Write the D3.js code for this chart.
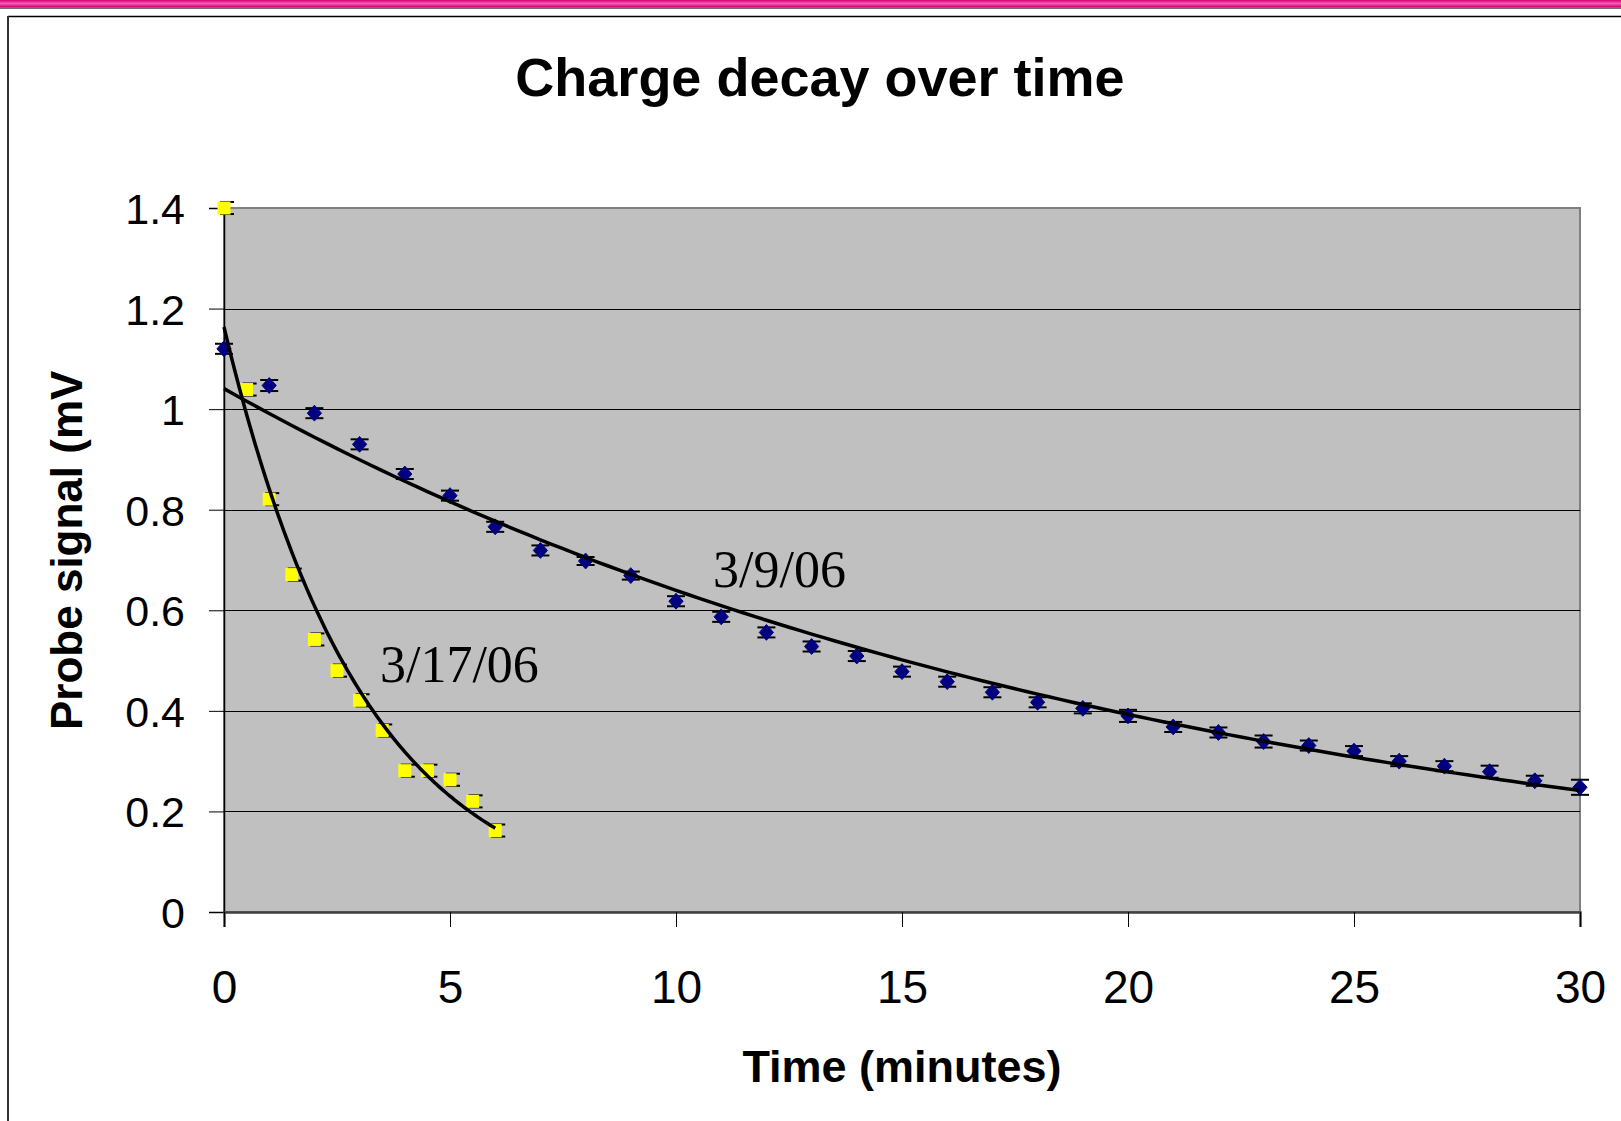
<!DOCTYPE html>
<html lang="en">
<head>
<meta charset="utf-8">
<title>Charge decay over time</title>
<style>
  body { margin: 0; background: #fff; }
</style>
</head>
<body>
<svg id="chart" width="1621" height="1121" font-family="'Liberation Sans', Arial, sans-serif"></svg>
<script src="https://d3js.org/d3.v7.min.js"></script>
<script>
// 3/9/06 run, one reading a minute
const timesA = [0, 1, 2, 3, 4, 5, 6, 7, 8, 9, 10, 11, 12, 13, 14, 15, 16, 17, 18, 19, 20,
                21, 22, 23, 24, 25, 26, 27, 28, 29, 30];
const signalA = [1.12, 1.047, 0.992, 0.930, 0.871, 0.828, 0.766, 0.719, 0.698, 0.669, 0.618,
                 0.587, 0.556, 0.528, 0.509, 0.478, 0.458, 0.437, 0.417, 0.405, 0.390,
                 0.368, 0.357, 0.339, 0.331, 0.320, 0.300, 0.290, 0.279, 0.261, 0.248];
const errorA = [0.010, 0.011, 0.010, 0.010, 0.010, 0.010, 0.010, 0.010, 0.008, 0.008, 0.010,
                0.010, 0.010, 0.010, 0.010, 0.010, 0.010, 0.010, 0.010, 0.010, 0.012,
                0.010, 0.010, 0.012, 0.010, 0.010, 0.010, 0.010, 0.012, 0.010, 0.015];

// 3/17/06 run, every half minute
const timesB = [0, 0.5, 1, 1.5, 2, 2.5, 3, 3.5, 4, 4.5, 5, 5.5, 6];
const signalB = [1.40, 1.039, 0.821, 0.671, 0.542, 0.480, 0.421, 0.361, 0.281, 0.281, 0.263, 0.220, 0.162];
const errorB = [0.012, 0.012, 0.012, 0.012, 0.012, 0.012, 0.012, 0.012, 0.012, 0.012, 0.012, 0.012, 0.012];

const xTicks = [0, 5, 10, 15, 20, 25, 30];
const yTicks = [0, 0.2, 0.4, 0.6, 0.8, 1, 1.2, 1.4];

const titleText = "Charge decay over time";
const xTitle = "Time (minutes)";
const yTitle = "Probe signal (mV)";
const labelA = "3/9/06";
const labelB = "3/17/06";

const svg = d3.select("#chart");
const W = 1621, H = 1121;
const plotL = 224, plotR = 1580, plotT = 208, plotB = 912;
const serif = "'Liberation Serif', 'Times New Roman', serif";

const x = d3.scaleLinear().domain([0, 30]).range([plotL, plotR]);
const y = d3.scaleLinear().domain([0, 1.4]).range([plotB, plotT]);

// slide decoration: magenta rule on top and the chart frame
const defs = svg.append("defs");
const grad = defs.append("linearGradient")
  .attr("id", "band").attr("x1", 0).attr("y1", 0).attr("x2", 0).attr("y2", 1);
grad.append("stop").attr("offset", "0%").attr("stop-color", "#d0007a");
grad.append("stop").attr("offset", "50%").attr("stop-color", "#f060b0");
grad.append("stop").attr("offset", "100%").attr("stop-color", "#d0007a");
svg.append("rect").attr("x", 0).attr("y", 0).attr("width", W).attr("height", 7).attr("fill", "url(#band)");
svg.append("rect").attr("x", 0).attr("y", 7).attr("width", W).attr("height", 2).attr("fill", "#707070");
svg.append("line").attr("x1", 8).attr("x2", W).attr("y1", 16.5).attr("y2", 16.5)
  .attr("stroke", "#000").attr("stroke-width", 1.5);
svg.append("line").attr("x1", 8).attr("x2", 8).attr("y1", 16).attr("y2", H)
  .attr("stroke", "#333").attr("stroke-width", 2);

// plot area
svg.append("rect").attr("x", plotL).attr("y", plotT)
  .attr("width", plotR - plotL).attr("height", plotB - plotT)
  .attr("fill", "#c0c0c0").attr("stroke", "#808080").attr("stroke-width", 2);

svg.append("g").selectAll("line").data(yTicks.filter(d => d > 0 && d < 1.4)).join("line")
  .attr("x1", plotL).attr("x2", plotR)
  .attr("y1", d => Math.round(y(d)) + 0.5).attr("y2", d => Math.round(y(d)) + 0.5)
  .attr("stroke", "#000").attr("stroke-width", 1);

// axes
const yAxis = d3.axisLeft(y).tickValues(yTicks).tickSize(15).tickPadding(24)
  .tickFormat(d => String(+d.toFixed(1)));
const gy = svg.append("g").attr("transform", `translate(${plotL},0)`).call(yAxis);
gy.attr("font-family", null).attr("font-size", null);
gy.select(".domain").attr("stroke", "#000").attr("stroke-width", 1.5);
gy.selectAll(".tick line").attr("stroke", "#000");
gy.selectAll(".tick text").attr("font-size", 43).attr("fill", "#000").attr("dy", "0.36em");

const xAxis = d3.axisBottom(x).tickValues(xTicks).tickSize(15).tickPadding(43);
const gx = svg.append("g").attr("transform", `translate(0,${plotB})`).call(xAxis);
gx.attr("font-family", null).attr("font-size", null);
gx.select(".domain").attr("stroke", "#404040").attr("stroke-width", 2.5);
gx.selectAll(".tick line").attr("stroke", "#000");
gx.selectAll(".tick text").attr("font-size", 46).attr("fill", "#000").attr("dy", "0.71em");

// error bars
function drawErrors(ts, vs, es, capL, capR) {
  const g = svg.append("g").attr("stroke", "#000").attr("stroke-width", 2);
  ts.forEach((t, i) => {
    const cx = x(t), yHi = y(vs[i] + es[i]), yLo = y(vs[i] - es[i]);
    g.append("line").attr("x1", cx).attr("x2", cx).attr("y1", yHi).attr("y2", yLo);
    g.append("line").attr("x1", cx - capL).attr("x2", cx + capR).attr("y1", yHi).attr("y2", yHi);
    g.append("line").attr("x1", cx - capL).attr("x2", cx + capR).attr("y1", yLo).attr("y2", yLo);
  });
}
drawErrors(timesA, signalA, errorA, 9, 9);
drawErrors(timesB, signalB, errorB, 4, 10);

// markers
svg.append("g").selectAll("path").data(timesA).join("path")
  .attr("d", d3.symbol(d3.symbolDiamond2, 160))
  .attr("transform", (d, i) => `translate(${x(d)},${y(signalA[i])}) scale(0.9,1)`)
  .attr("fill", "#000080").attr("stroke", "#000080").attr("stroke-width", 1);

svg.append("g").selectAll("rect").data(timesB).join("rect")
  .attr("x", d => x(d) - 6.5).attr("y", (d, i) => y(signalB[i]) - 6.5)
  .attr("width", 13).attr("height", 13).attr("fill", "#ffff00");

// exponential trendlines (least squares on ln y, like the spreadsheet does)
function expFit(ts, vs) {
  const ls = vs.map(Math.log);
  const mt = d3.mean(ts), ml = d3.mean(ls);
  let sxy = 0, sxx = 0;
  ts.forEach((t, i) => { sxy += (t - mt) * (ls[i] - ml); sxx += (t - mt) * (t - mt); });
  const b = sxy / sxx;
  return { a: Math.exp(ml - b * mt), b: b };
}
function drawTrend(ts, vs) {
  const f = expFit(ts, vs);
  const t0 = d3.min(ts), t1 = d3.max(ts);
  const pts = d3.range(0, 121).map(k => t0 + (t1 - t0) * k / 120);
  svg.append("path")
    .attr("d", d3.line().x(t => x(t)).y(t => y(f.a * Math.exp(f.b * t)))(pts))
    .attr("fill", "none").attr("stroke", "#000").attr("stroke-width", 3.5)
    .attr("stroke-linejoin", "round");
}
drawTrend(timesA, signalA);
drawTrend(timesB, signalB);

// series labels
svg.append("text").attr("x", x(10.82)).attr("y", y(0.646))
  .attr("font-family", serif).attr("font-size", 52).attr("fill", "#000").text(labelA);
svg.append("text").attr("x", x(3.45)).attr("y", y(0.458))
  .attr("font-family", serif).attr("font-size", 52).attr("fill", "#000").text(labelB);

// titles
svg.append("text").attr("x", 820).attr("y", 96).attr("text-anchor", "middle")
  .attr("font-size", 54).attr("font-weight", "bold").attr("fill", "#000").text(titleText);

svg.append("text").attr("x", 902).attr("y", 1082).attr("text-anchor", "middle")
  .attr("font-size", 45).attr("font-weight", "bold").attr("fill", "#000").text(xTitle);

defs.append("clipPath").attr("id", "ytclip")
  .append("rect").attr("x", 0).attr("y", 371).attr("width", 200).attr("height", 700);
svg.append("g").attr("clip-path", "url(#ytclip)")
  .append("text").attr("transform", "translate(82,730) rotate(-90)")
  .attr("font-size", 44).attr("font-weight", "bold").attr("fill", "#000").text(yTitle);
</script>
</body>
</html>
